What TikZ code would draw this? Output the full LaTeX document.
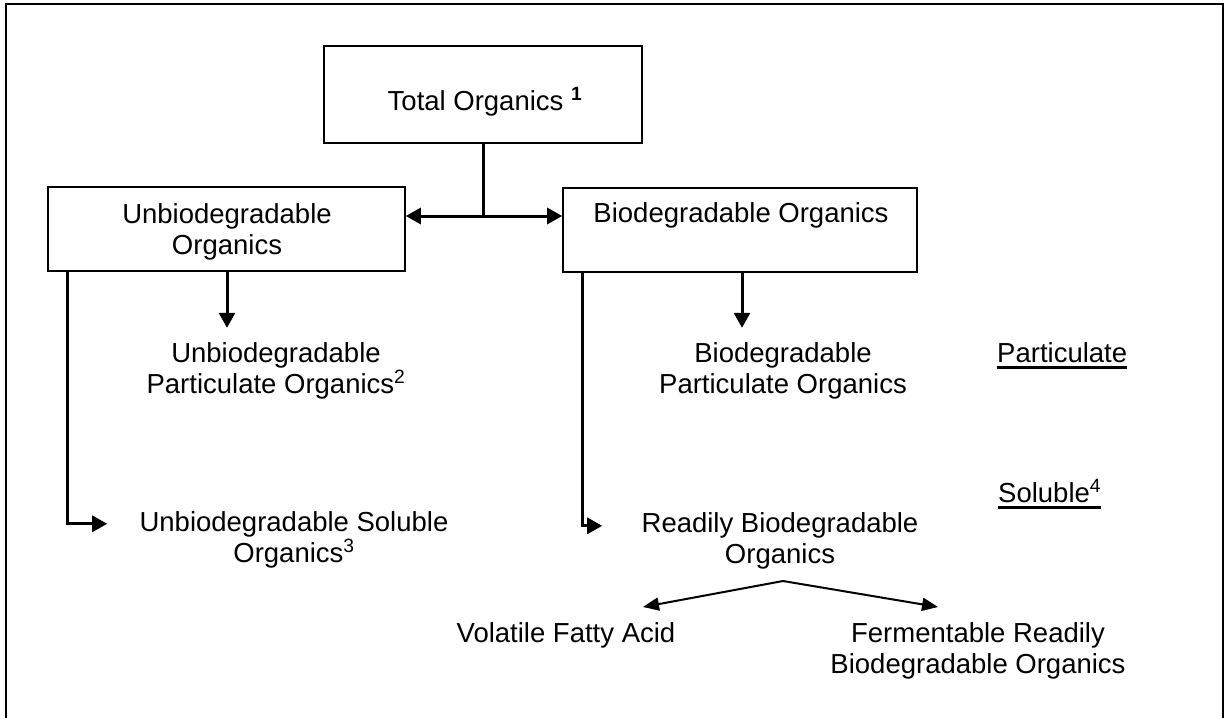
\documentclass[tikz,border=0pt]{standalone}
\usepackage{fontspec}
\setmainfont{Liberation Sans}
\usetikzlibrary{arrows.meta}
\begin{document}
\begin{tikzpicture}[x=1pt,y=-1pt,
  txt/.style={font=\fontsize{27.5}{31}\selectfont, inner sep=0pt, align=center},
  box/.style={draw, line width=1.6pt, inner sep=0pt},
  heavy/.style={line width=3pt},
  heavyarrow/.style={line width=3pt, -{Triangle[length=15pt,width=16pt]}},
  lightarrow/.style={line width=2pt, -{Triangle[length=16pt,width=13pt]}},
  rulebar/.style={line width=3pt}]
\useasboundingbox (0,0) rectangle (1225,717);
% outer frame (open at the bottom edge of the page)
\draw[line width=1.5pt] (6,730) -- (6,4) -- (1223,4) -- (1223,730);

% boxes
\node[box, minimum width=318pt, minimum height=97pt] (total) at (483,94.5) {};
\node[box, minimum width=357pt, minimum height=84pt] (unbio) at (226.5,229) {};
\node[box, minimum width=354pt, minimum height=84pt] (bio) at (740,230) {};

% box texts (base anchor = baseline of the last line)
\node[txt, anchor=base] (totalt) at (485,110) {Total Organics \textsuperscript{\textbf{1}}};
\node[txt, anchor=base] (unbiot) at (227,254) {Unbiodegradable\\Organics};
\node[txt, anchor=base] (biot) at (741,222) {Biodegradable Organics};

% free-standing labels
\node[txt, anchor=base] (unbpart) at (276,393) {Unbiodegradable\\Particulate Organics\textsuperscript{2}};
\node[txt, anchor=base] (biopart) at (783,393) {Biodegradable\\Particulate Organics};
\node[txt, anchor=base] (unbsol) at (294,562) {Unbiodegradable Soluble\\Organics\textsuperscript{3}};
\node[txt, anchor=base] (readily) at (780,563) {Readily Biodegradable\\Organics};
\node[txt, anchor=base] (vfa) at (566,642) {Volatile Fatty Acid};
\node[txt, anchor=base] (ferm) at (978,673) {Fermentable Readily\\Biodegradable Organics};

% category headings
\node[txt, anchor=base west] (partcat) at (997,362) {Particulate};
\draw[rulebar] ([yshift=-5pt]partcat.base west) -- ([yshift=-5pt]partcat.base east);
\node[txt, anchor=base west] (solcat) at (998,502) {Soluble\textsuperscript{4}};
\draw[rulebar] ([yshift=-5pt]solcat.base west) -- ([yshift=-5pt]solcat.base east);

% split from the total
\coordinate (split) at (483,216);
\draw[heavy] (total.south) -- (split);
\draw[heavyarrow] (split) -- (split -| unbio.east);
\draw[heavyarrow] (split) -- (split -| bio.west);

% particulate branches
\draw[heavyarrow] ([xshift=0.5pt]unbio.south) -- ++(0,56);
\draw[heavyarrow] ([xshift=2pt]bio.south) -- ++(0,55);

% soluble branches
\draw[heavyarrow] ([xshift=20pt]unbio.south west) -- ++(0,252) -- ++(40,0);
\draw[heavyarrow] ([xshift=20pt]bio.south west) -- ++(0,253) -- ++(20,0);

% readily biodegradable split
\coordinate (apex) at (783,581);
\coordinate (vfatip) at (643,607);
\coordinate (fermtip) at (938,607);
\draw[lightarrow] (apex) -- (vfatip);
\draw[lightarrow] (apex) -- (fermtip);
\end{tikzpicture}
\end{document}
